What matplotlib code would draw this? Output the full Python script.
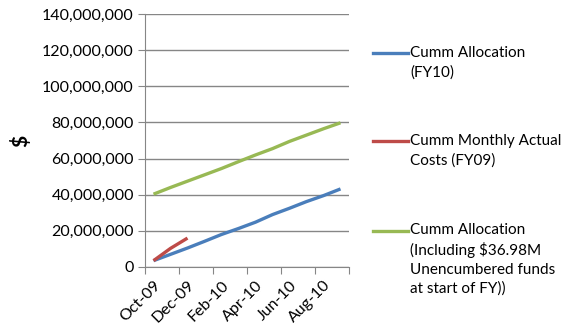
import matplotlib
matplotlib.use("Agg")
import matplotlib.pyplot as plt
from matplotlib.lines import Line2D
from matplotlib.ticker import FuncFormatter, FixedLocator

# --- Data ---
months = ["Oct-09", "Nov-09", "Dec-09", "Jan-10", "Feb-10", "Mar-10",
          "Apr-10", "May-10", "Jun-10", "Jul-10", "Aug-10", "Sep-10"]
cumm_alloc = [3.5e6, 7.0e6, 10.5e6, 14.2e6, 18.0e6, 21.3e6,
              24.8e6, 29.0e6, 32.5e6, 36.2e6, 39.5e6, 43.2e6]
cumm_actual = [3.5e6, 10.3e6, 16.0e6]
cumm_alloc_incl = [40.3e6, 44.0e6, 47.5e6, 51.0e6, 54.5e6, 58.3e6,
                   62.0e6, 65.5e6, 69.5e6, 73.0e6, 76.5e6, 79.8e6]

labels = ["Cumm Allocation\n(FY10)",
          "Cumm Monthly Actual\nCosts (FY09)",
          "Cumm Allocation\n(Including $36.98M\nUnencumbered funds\nat start of FY))"]
colors = ["#4A7EBB", "#BE4B48", "#98B954"]

plt.rcParams['font.family'] = ['Lato', 'DejaVu Sans']

W, H = 564, 330
fig = plt.figure(figsize=(W / 100, H / 100), dpi=100)
ax = fig.add_axes([145 / W, 1 - 267 / H, (349 - 145) / W, (267 - 14) / H])

x = list(range(len(months)))
series = [cumm_alloc, cumm_actual, cumm_alloc_incl]
for vals, c in zip(series, colors):
    ax.plot(x[:len(vals)], vals, color=c, lw=2.4, solid_capstyle='butt')

ax.set_xlim(-0.5, len(months) - 0.5)
ax.set_ylim(0, 140e6)
ax.set_yticks([i * 20e6 for i in range(8)])
ax.yaxis.set_major_formatter(FuncFormatter(lambda v, p: f"{int(v):,}"))
ax.grid(axis='y', color='#868686', lw=1.0)
ax.set_axisbelow(True)

# tick marks between categories, labels on every other month
ax.xaxis.set_major_locator(FixedLocator([i - 0.5 for i in range(0, len(months) + 1, 2)]))
ax.xaxis.set_major_formatter(FuncFormatter(lambda v, p: ""))
ax.xaxis.set_minor_locator(FixedLocator(list(range(0, len(months), 2))))
ax.set_xticklabels([months[i] for i in range(0, len(months), 2)], minor=True,
                   rotation=45, ha='right', va='top', rotation_mode='anchor')
ax.tick_params(axis='x', which='minor', length=0, pad=8, labelsize=11.5, colors='#000000')
ax.tick_params(axis='x', which='major', length=5, color='#868686')
ax.tick_params(axis='y', length=5, color='#868686', labelsize=11.5, pad=3)

for s in ['top', 'right']:
    ax.spines[s].set_visible(False)
for s in ['left', 'bottom']:
    ax.spines[s].set_color('#868686')

fig.text(21 / W, 1 - 141 / H, "$", rotation=90, fontsize=15, fontweight='bold',
         ha='center', va='center')

# legend drawn by hand so the marker sits next to the first line of text
leg_y = [53, 141.5, 230.5]
line_gap = 19.5
for lab, c, y0 in zip(labels, colors, leg_y):
    fig.add_artist(Line2D([373 / W, 408 / W], [1 - y0 / H, 1 - y0 / H],
                          color=c, lw=2.4, transform=fig.transFigure))
    for k, part in enumerate(lab.split("\n")):
        fig.text(410 / W, 1 - (y0 + k * line_gap) / H, part, fontsize=11,
                 ha='left', va='center')

fig.savefig("out.png", dpi=100)
